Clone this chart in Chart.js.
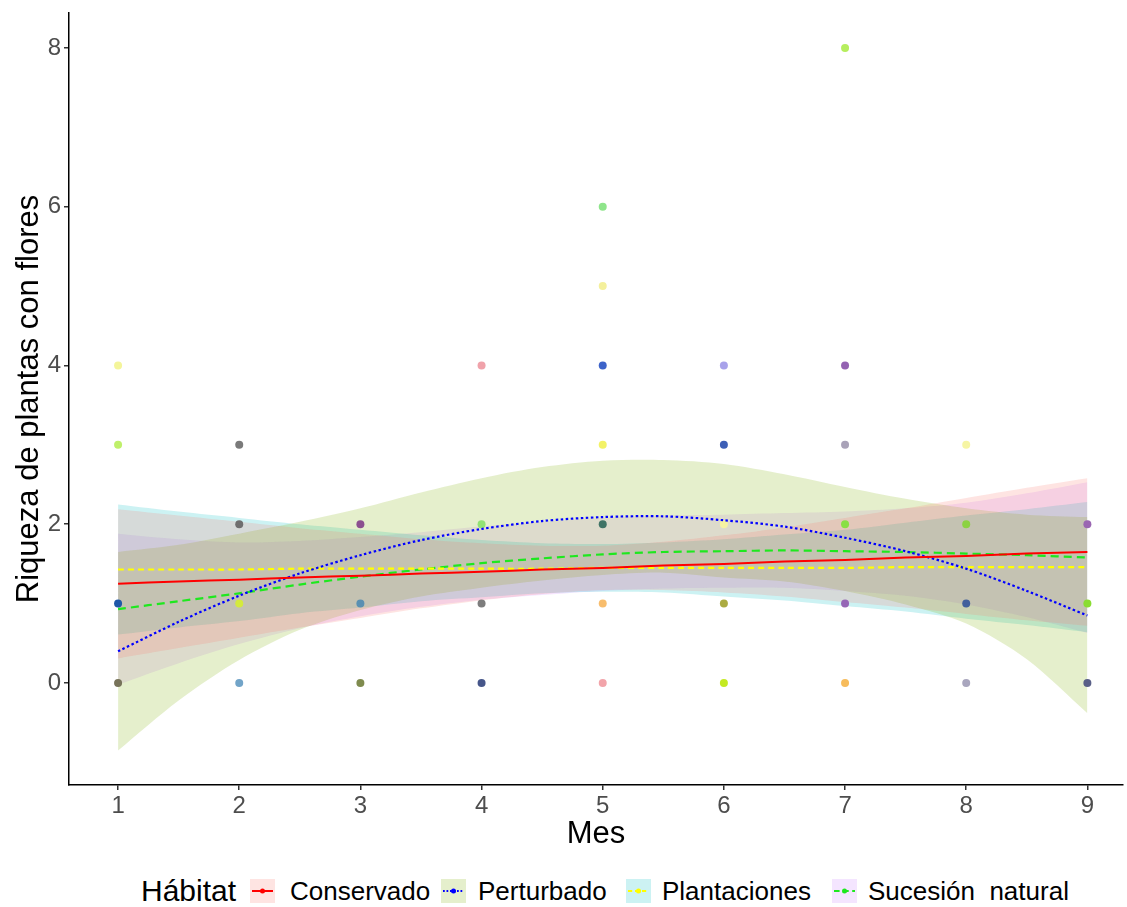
<!DOCTYPE html>
<html lang="es">
<head>
    <meta charset="UTF-8">
    <title>Riqueza de plantas con flores por mes</title>
    <script src="https://cdn.jsdelivr.net/npm/chart.js"></script>
    <style>
        body { margin: 0; background: #fff; font-family: "Liberation Sans", Arial, sans-serif; }
        #contenedor { position: relative; width: 1127px; height: 907px; }
        #grafico { position: absolute; left: 0; top: 0; display: block; }
        .ley { position: absolute; white-space: pre; color: #000; }
        .ley-titulo { font-size: 30px; top: 871px; height: 40px; line-height: 40px; }
        .ley-texto { font-size: 26px; top: 871px; height: 40px; line-height: 40px; }
        .ley-clave { position: absolute; top: 879px; }
    </style>
</head>
<body>
<div id="contenedor">
    <canvas id="grafico" width="1127" height="865"></canvas>
</div>

<script>
    // datos
    const mes = [1, 2, 3, 4, 5, 6, 7, 8, 9];
    const ticksY = [0, 2, 4, 6, 8];
    const habitats = ['Conservado', 'Perturbado', 'Plantaciones', 'Sucesión  natural'];

    // observaciones (mes, riqueza)
    const puntosMes = [1, 1, 1, 1, 2, 2, 2, 2, 3, 3, 3, 4, 4, 4, 4, 5, 5, 5, 5, 5, 5, 5,
        6, 6, 6, 6, 6, 7, 7, 7, 7, 7, 7, 8, 8, 8, 8, 9, 9, 9];
    const puntosRiqueza = [4, 3, 1, 0, 3, 2, 1, 0, 2, 1, 0, 4, 2, 1, 0, 6, 5, 4, 3, 2, 1, 0,
        4, 3, 2, 1, 0, 8, 4, 3, 2, 1, 0, 3, 2, 1, 0, 2, 1, 0];
    const puntosColor = [
        '#f4f59a', '#bff06a', '#1f58a8', '#77735a',
        '#7a7a7a', '#6f6f6f', '#d4ea3c', '#72a4c8',
        '#8c5090', '#5a90b2', '#7f8b4e',
        '#f0a2aa', '#92e274', '#7d7d7d', '#46568a',
        '#8fe58b', '#f4f09c', '#3d63c9', '#f3f266', '#3f7466', '#f8bd6d', '#f2a4aa',
        '#a8a2ea', '#3d5fb6', '#f6f2a2', '#abab42', '#c4ea22',
        '#b6ee5e', '#9462b2', '#a9a2b8', '#88e044', '#9666b6', '#f7bc5c',
        '#f6f5a4', '#8cd242', '#42609c', '#a9a6be',
        '#9a66b2', '#8add32', '#5a6088'
    ];

    // curvas ajustadas con su intervalo de confianza
    const xSuave = [1, 1.5, 2, 2.5, 3, 3.5, 4, 4.5, 5, 5.5, 6, 6.5, 7, 7.5, 8, 8.5, 9];

    const conservadoAjuste = [1.25, 1.28, 1.30, 1.33, 1.35, 1.38, 1.40, 1.43, 1.45, 1.48, 1.50, 1.53, 1.55, 1.58, 1.60, 1.63, 1.65];
    const conservadoSup = [2.19, 2.11, 2.03, 1.95, 1.88, 1.81, 1.76, 1.73, 1.73, 1.78, 1.86, 1.96, 2.08, 2.20, 2.33, 2.46, 2.58];
    const conservadoInf = [0.31, 0.44, 0.57, 0.70, 0.82, 0.94, 1.04, 1.12, 1.17, 1.17, 1.14, 1.09, 1.02, 0.95, 0.87, 0.79, 0.72];

    const perturbadoAjuste = [0.40, 0.77, 1.10, 1.38, 1.61, 1.80, 1.94, 2.04, 2.09, 2.10, 2.05, 1.97, 1.83, 1.66, 1.44, 1.16, 0.85];
    const perturbadoSup = [1.65, 1.74, 1.88, 2.03, 2.20, 2.40, 2.58, 2.72, 2.80, 2.81, 2.76, 2.63, 2.47, 2.32, 2.20, 2.12, 2.09];
    const perturbadoInf = [-0.85, -0.22, 0.29, 0.67, 0.92, 1.09, 1.20, 1.29, 1.36, 1.39, 1.33, 1.28, 1.16, 0.99, 0.75, 0.30, -0.38];

    const plantacionesAjuste = [1.43, 1.43, 1.43, 1.44, 1.44, 1.44, 1.44, 1.44, 1.45, 1.45, 1.45, 1.45, 1.45, 1.46, 1.46, 1.46, 1.46];
    const plantacionesSup = [2.25, 2.16, 2.08, 2.00, 1.93, 1.86, 1.80, 1.76, 1.75, 1.77, 1.81, 1.87, 1.93, 2.02, 2.11, 2.19, 2.28];
    const plantacionesInf = [0.61, 0.70, 0.78, 0.88, 0.95, 1.03, 1.08, 1.13, 1.15, 1.14, 1.09, 1.04, 0.97, 0.90, 0.81, 0.73, 0.64];

    const sucesionAjuste = [0.93, 1.03, 1.13, 1.24, 1.34, 1.43, 1.51, 1.57, 1.62, 1.65, 1.66, 1.67, 1.66, 1.65, 1.63, 1.61, 1.58];
    const sucesionSup = [1.88, 1.81, 1.77, 1.79, 1.84, 1.90, 1.97, 2.03, 2.08, 2.11, 2.12, 2.14, 2.16, 2.20, 2.27, 2.39, 2.53];
    const sucesionInf = [-0.02, 0.25, 0.49, 0.69, 0.84, 0.96, 1.05, 1.11, 1.16, 1.19, 1.20, 1.20, 1.16, 1.10, 0.99, 0.83, 0.63];

    // estilos
    const rellenos = ['rgba(248,118,109,0.2)', 'rgba(124,174,0,0.2)', 'rgba(0,191,196,0.2)', 'rgba(199,124,255,0.2)'];
    const colorLinea = ['#ff0000', '#0000ff', '#ffff00', '#1ee81e'];
    const trazos = [[], [2.5, 2.5], [6, 4], [8, 5]];
    const anchoLinea = [2, 2.2, 2.2, 2.2];

    const ajustes = [conservadoAjuste, perturbadoAjuste, plantacionesAjuste, sucesionAjuste];
    const superiores = [conservadoSup, perturbadoSup, plantacionesSup, sucesionSup];
    const inferiores = [conservadoInf, perturbadoInf, plantacionesInf, sucesionInf];

    const aPuntos = arr => xSuave.map((x, i) => ({ x: x, y: arr[i] }));

    const datasets = [];
    habitats.forEach((h, k) => {
        // banda
        datasets.push({
            type: 'line', label: h + ' sup', data: aPuntos(superiores[k]),
            borderColor: 'transparent', borderWidth: 0, pointRadius: 0,
            backgroundColor: rellenos[k], fill: '+1', tension: 0.3, order: 3
        });
        datasets.push({
            type: 'line', label: h + ' inf', data: aPuntos(inferiores[k]),
            borderColor: 'transparent', borderWidth: 0, pointRadius: 0,
            fill: false, tension: 0.3, order: 3
        });
    });
    datasets.push({
        type: 'scatter', label: 'observaciones',
        data: puntosMes.map((m, i) => ({ x: m, y: puntosRiqueza[i] })),
        backgroundColor: puntosColor, borderWidth: 0, pointRadius: 4, order: 1
    });
    habitats.forEach((h, k) => {
        datasets.push({
            type: 'line', label: h, data: aPuntos(ajustes[k]),
            borderColor: colorLinea[k], borderWidth: anchoLinea[k], borderDash: trazos[k],
            pointRadius: 0, fill: false, tension: 0.3, order: 0
        });
    });

    const fuente = '"Liberation Sans", Arial, sans-serif';
    const ejeComun = {
        grid: { drawOnChartArea: false, drawTicks: true, tickLength: 5, color: '#333', lineWidth: 1.5 },
        border: { display: true, color: '#000', width: 1.5 }
    };

    new Chart(document.getElementById('grafico'), {
        type: 'scatter',
        data: { datasets: datasets },
        options: {
            responsive: false,
            animation: false,
            layout: { padding: { top: 13, right: 0, left: 0, bottom: 0 } },
            plugins: { legend: { display: false }, tooltip: { enabled: false } },
            scales: {
                x: {
                    type: 'linear', min: 0.595, max: 9.294,
                    ...ejeComun,
                    afterBuildTicks: s => { s.ticks = mes.map(v => ({ value: v })); },
                    afterFit: s => { s.height = 80; },
                    ticks: { color: '#4d4d4d', font: { family: fuente, size: 24 }, padding: 2 },
                    title: { display: true, text: 'Mes', color: '#000',
                        font: { family: fuente, size: 31 }, padding: { top: 0, bottom: 12 } }
                },
                y: {
                    type: 'linear', min: -1.285, max: 8.44,
                    ...ejeComun,
                    afterBuildTicks: s => { s.ticks = ticksY.map(v => ({ value: v })); },
                    afterFit: s => { s.width = 69; s.paddingTop = 0; s.paddingBottom = 0; },
                    ticks: { color: '#4d4d4d', font: { family: fuente, size: 24 }, padding: 3 },
                    title: { display: true, text: 'Riqueza de plantas con flores', color: '#000',
                        font: { family: fuente, size: 31 }, padding: { top: 11, bottom: 0 } }
                }
            }
        }
    });

    // leyenda
    const cont = document.getElementById('contenedor');
    const titulo = document.createElement('div');
    titulo.className = 'ley ley-titulo';
    titulo.style.left = '141px';
    titulo.textContent = 'Hábitat';
    cont.appendChild(titulo);

    const xClave = [250, 441, 626, 832];
    const xTexto = [290, 478, 662, 868];
    habitats.forEach((h, k) => {
        const c = document.createElement('canvas');
        c.width = 25; c.height = 24;
        c.className = 'ley-clave';
        c.style.left = xClave[k] + 'px';
        const g = c.getContext('2d');
        g.fillStyle = rellenos[k];
        g.fillRect(0, 0, 25, 24);
        g.strokeStyle = colorLinea[k];
        g.lineWidth = 2;
        g.setLineDash(trazos[k].length ? trazos[k].map(v => v * 0.7) : []);
        g.beginPath(); g.moveTo(2, 12); g.lineTo(23, 12); g.stroke();
        g.fillStyle = colorLinea[k];
        g.beginPath(); g.arc(12.5, 12, 2.5, 0, Math.PI * 2); g.fill();
        cont.appendChild(c);

        const t = document.createElement('div');
        t.className = 'ley ley-texto';
        t.style.left = xTexto[k] + 'px';
        t.textContent = h;
        cont.appendChild(t);
    });
</script>
</body>
</html>
